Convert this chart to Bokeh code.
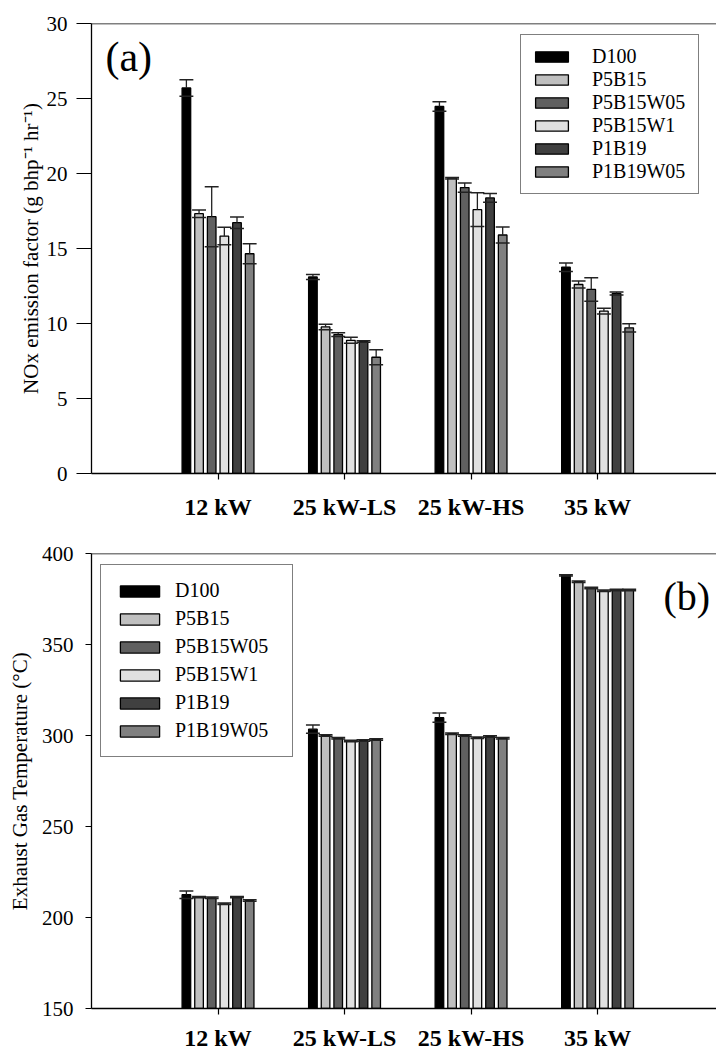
from bokeh.plotting import figure
from bokeh.layouts import column
from bokeh.models import FixedTicker, Legend, LegendItem, Span, Label, ColumnDataSource
from bokeh.embed import file_html
from bokeh.resources import INLINE

categories = ["12 kW", "25 kW-LS", "25 kW-HS", "35 kW"]
series = ["D100", "P5B15", "P5B15W05", "P5B15W1", "P1B19", "P1B19W05"]
colors = ["#000000", "#c0c0c0", "#606060", "#e0e0e0", "#404040", "#808080"]

nox_d100 = [25.7, 13.1, 24.47, 13.75]
nox_p5b15 = [17.32, 9.77, 19.69, 12.6]
nox_p5b15w05 = [17.12, 9.26, 19.06, 12.27]
nox_p5b15w1 = [15.83, 8.88, 17.59, 10.82]
nox_p1b19 = [16.72, 8.8, 18.37, 12.0]
nox_p1b19w05 = [14.65, 7.75, 15.9, 9.71]

nox_err_d100 = [0.55, 0.17, 0.32, 0.29]
nox_err_p5b15 = [0.25, 0.18, 0.05, 0.23]
nox_err_p5b15w05 = [2.0, 0.13, 0.31, 0.78]
nox_err_p5b15w1 = [0.58, 0.2, 1.12, 0.19]
nox_err_p1b19 = [0.38, 0.05, 0.29, 0.1]
nox_err_p1b19w05 = [0.67, 0.5, 0.53, 0.28]

egt_d100 = [212.5, 303.5, 309.8, 388.0]
egt_p5b15 = [211.2, 300.0, 301.0, 384.5]
egt_p5b15w05 = [210.8, 298.5, 300.0, 381.0]
egt_p5b15w1 = [207.5, 297.0, 298.8, 379.5]
egt_p1b19 = [211.2, 297.3, 299.5, 380.0]
egt_p1b19w05 = [209.3, 297.8, 298.5, 380.0]

egt_err_d100 = [2.0, 2.3, 2.5, 0.3]
egt_err_p5b15 = [0.4, 0.4, 0.4, 0.4]
egt_err_p5b15w05 = [0.4, 0.4, 0.4, 0.4]
egt_err_p5b15w1 = [0.4, 0.4, 0.4, 0.4]
egt_err_p1b19 = [0.4, 0.4, 0.4, 0.4]
egt_err_p1b19w05 = [0.4, 0.4, 0.4, 0.4]

nox_vals = [nox_d100, nox_p5b15, nox_p5b15w05, nox_p5b15w1, nox_p1b19, nox_p1b19w05]
nox_errs = [nox_err_d100, nox_err_p5b15, nox_err_p5b15w05, nox_err_p5b15w1, nox_err_p1b19, nox_err_p1b19w05]
egt_vals = [egt_d100, egt_p5b15, egt_p5b15w05, egt_p5b15w1, egt_p1b19, egt_p1b19w05]
egt_errs = [egt_err_d100, egt_err_p5b15, egt_err_p5b15w05, egt_err_p5b15w1, egt_err_p1b19, egt_err_p1b19w05]

nox_ticks = [0, 5, 10, 15, 20, 25, 30]
egt_ticks = [150, 200, 250, 300, 350, 400]

FONT = "Liberation Serif"
PITCH = 0.1
BAR_W = 0.068
CAP_HALF = 0.055


def make_fig(height, ymin, ymax, yticks, vals, errs, ylabel, border_top, border_bottom,
             tick_out, tick_standoff, title_standoff, title_size, xlabel_standoff):
    p = figure(width=716, height=height, x_range=(0, 4.94), y_range=(ymin, ymax),
               output_backend="svg", toolbar_location=None,
               min_border_left=91, min_border_right=0,
               min_border_top=border_top, min_border_bottom=border_bottom)
    p.grid.visible = False
    p.outline_line_color = None
    p.background_fill_color = "white"
    p.border_fill_color = "white"

    renderers = []
    for i, name in enumerate(series):
        off = (i - 2.5) * PITCH
        xs = [k + 1 + off for k in range(len(categories))]
        v = vals[i]
        e = errs[i]
        src = ColumnDataSource(dict(x=xs, top=v))
        r = p.vbar(x="x", top="top", bottom=ymin, width=BAR_W, source=src,
                   fill_color=colors[i], line_color="black", line_width=1.3)
        renderers.append(r)
        lo = [a - b for a, b in zip(v, e)]
        hi = [a + b for a, b in zip(v, e)]
        p.segment(x0=xs, y0=v, x1=xs, y1=hi, line_color="#222222", line_width=1.3)
        p.segment(x0=[x - CAP_HALF for x in xs], y0=hi, x1=[x + CAP_HALF for x in xs], y1=hi,
                  line_color="#222222", line_width=1.5)
        p.segment(x0=[x - CAP_HALF for x in xs], y0=lo, x1=[x + CAP_HALF for x in xs], y1=lo,
                  line_color="#222222", line_width=1.5)

    p.xaxis.ticker = FixedTicker(ticks=[1, 2, 3, 4])
    p.xaxis.major_label_overrides = {k + 1: c for k, c in enumerate(categories)}
    p.xaxis.major_label_text_font = FONT
    p.xaxis.major_label_text_font_style = "bold"
    p.xaxis.major_label_text_font_size = "24px"
    p.xaxis.major_label_text_color = "black"
    p.xaxis.major_label_standoff = xlabel_standoff
    p.xaxis.major_tick_out = 6
    p.xaxis.major_tick_in = 0
    p.xaxis.minor_tick_out = 0
    p.xaxis.minor_tick_in = 0
    p.xaxis.axis_line_color = "black"
    p.xaxis.axis_line_width = 1.3
    p.xaxis.major_tick_line_color = "black"
    p.xaxis.major_tick_line_width = 1.2

    p.yaxis.ticker = FixedTicker(ticks=yticks)
    p.yaxis.major_label_text_font = FONT
    p.yaxis.major_label_text_font_size = "21px"
    p.yaxis.major_label_text_color = "black"
    p.yaxis.major_label_standoff = tick_standoff
    p.yaxis.major_tick_out = tick_out
    p.yaxis.major_tick_in = 0
    p.yaxis.minor_tick_out = 0
    p.yaxis.minor_tick_in = 0
    p.yaxis.axis_line_color = "black"
    p.yaxis.axis_line_width = 1.3
    p.yaxis.major_tick_line_color = "black"
    p.yaxis.major_tick_line_width = 1.2
    p.yaxis.axis_label = ylabel
    p.yaxis.axis_label_text_font = FONT
    p.yaxis.axis_label_text_font_style = "normal"
    p.yaxis.axis_label_text_font_size = title_size
    p.yaxis.axis_label_text_color = "black"
    p.yaxis.axis_label_standoff = title_standoff

    p.add_layout(Span(location=ymax, dimension="width", line_color="black", line_width=1.3))
    return p, renderers


top, top_r = make_fig(530, 0, 30, nox_ticks, nox_vals, nox_errs,
                      "NOx emission factor (g bhp\u207b\u00b9 hr\u207b\u00b9)",
                      23, 57, 15, 9, 1, "21px", 14)
bot, bot_r = make_fig(523, 150, 400, egt_ticks, egt_vals, egt_errs,
                      "Exhaust Gas Temperature (\u00b0C)",
                      23, 45, 6, 12, 7, "21px", 10)

leg_top = Legend(items=[LegendItem(label=s, renderers=[r]) for s, r in zip(series, top_r)],
                 location=(429, 279), glyph_width=41, glyph_height=13, label_standoff=20,
                 label_height=20, label_width=96, spacing=0, padding=10,
                 label_text_font=FONT, label_text_font_size="20px", label_text_color="black",
                 border_line_color="black", border_line_width=1.3, background_fill_alpha=1.0,
                 margin=0)
top.add_layout(leg_top)

leg_bot = Legend(items=[LegendItem(label=s, renderers=[r]) for s, r in zip(series, bot_r)],
                 location=(9, 251), glyph_width=49, glyph_height=14, label_standoff=11,
                 label_height=21, label_width=103, spacing=5, padding=14,
                 label_text_font=FONT, label_text_font_size="20px", label_text_color="black",
                 border_line_color="black", border_line_width=1.3, background_fill_alpha=1.0,
                 margin=0)
bot.add_layout(leg_bot)

top.add_layout(Label(x=0.11, y=27.8, text="(a)", text_font=FONT, text_font_size="42px",
                     text_baseline="middle", text_align="left", text_color="black"))
bot.add_layout(Label(x=4.89, y=376.4, text="(b)", text_font=FONT, text_font_size="40px",
                     text_baseline="middle", text_align="right", text_color="black"))

layout = column(top, bot, spacing=0)
open("out.html", "w").write(file_html(layout, INLINE))
